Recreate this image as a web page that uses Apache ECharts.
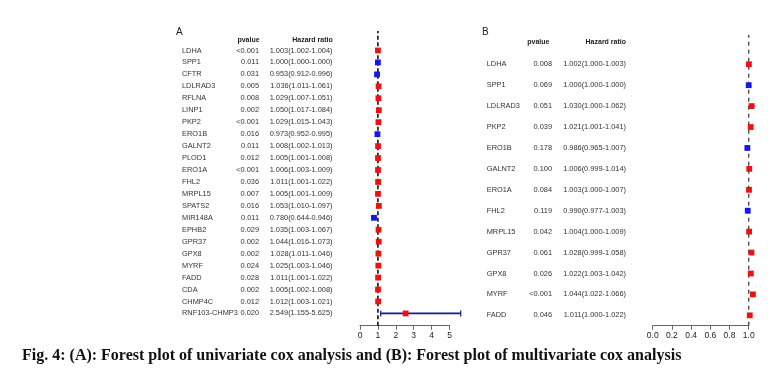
<!DOCTYPE html>
<html><head><meta charset="utf-8">
<script src="https://cdn.jsdelivr.net/npm/echarts@6/dist/echarts.min.js"></script>
<style>html,body{margin:0;padding:0;background:#fff}#c{width:777px;height:369px}</style>
</head><body><div id="c"></div>
<script>
// ---------- Panel A: univariate ----------
const namesA = ["LDHA","SPP1","CFTR","LDLRAD3","RFLNA","LINP1","PKP2","ERO1B","GALNT2","PLOD1","ERO1A","FHL2","MRPL15","SPATS2","MIR148A","EPHB2","GPR37","GPX8","MYRF","FADD","CDA","CHMP4C","RNF103-CHMP3"];
const pvalA = ["<0.001","0.011","0.031","0.005","0.008","0.002","<0.001","0.016","0.011","0.012","<0.001","0.036","0.007","0.016","0.011","0.029","0.002","0.002","0.024","0.028","0.002","0.012","0.020"];
const hrA = [1.003,1.000,0.953,1.036,1.029,1.050,1.029,0.973,1.008,1.005,1.006,1.011,1.005,1.053,0.780,1.035,1.044,1.028,1.025,1.011,1.005,1.012,2.549];
const loA = [1.002,1.000,0.912,1.011,1.007,1.017,1.015,0.952,1.002,1.001,1.003,1.001,1.001,1.010,0.644,1.003,1.016,1.011,1.003,1.001,1.002,1.003,1.155];
const hiA = [1.004,1.000,0.996,1.061,1.051,1.084,1.043,0.995,1.013,1.008,1.009,1.022,1.009,1.097,0.946,1.067,1.073,1.046,1.046,1.022,1.008,1.021,5.625];
const ticksA = [0,1,2,3,4,5];

// ---------- Panel B: multivariate ----------
const namesB = ["LDHA","SPP1","LDLRAD3","PKP2","ERO1B","GALNT2","ERO1A","FHL2","MRPL15","GPR37","GPX8","MYRF","FADD"];
const pvalB = ["0.008","0.069","0.051","0.039","0.178","0.100","0.084","0.119","0.042","0.061","0.026","<0.001","0.046"];
const hrB = [1.002,1.000,1.030,1.021,0.986,1.006,1.003,0.990,1.004,1.028,1.022,1.044,1.011];
const loB = [1.000,1.000,1.000,1.001,0.965,0.999,1.000,0.977,1.000,0.999,1.003,1.022,1.000];
const hiB = [1.003,1.000,1.062,1.041,1.007,1.014,1.007,1.003,1.009,1.058,1.042,1.066,1.022];
const ticksB = [0.0,0.2,0.4,0.6,0.8,1.0];

const refValue = 1;
const caption = "Fig. 4: (A): Forest plot of univariate cox analysis and (B): Forest plot of multivariate cox analysis";

function hrText(h, l, u) {
  return h.map((v, i) => v.toFixed(3) + "(" + l[i].toFixed(3) + "-" + u[i].toFixed(3) + ")");
}
function forestData(h, l, u) {
  return h.map((v, i) => [v, i, l[i], u[i]]);
}

const FONT = "'Liberation Sans', Arial, sans-serif";
const txt = { fontFamily: FONT, fontSize: 7.4, color: "#333" };

function renderForest(params, api) {
  const hr = api.value(0), idx = api.value(1), lo = api.value(2), hi = api.value(3);
  const c = api.coord([hr, idx]);
  const l = api.coord([lo, idx]);
  const h = api.coord([hi, idx]);
  const s = 5.8;
  const color = hr > 1 ? "#ee1111" : "#1515ee";
  const children = [];
  children.push({ type: "line", shape: { x1: l[0], y1: c[1], x2: h[0], y2: c[1] }, style: { stroke: "#1a1a8c", lineWidth: 1.6 } });
  if (h[0] - l[0] > 6) {
    children.push({ type: "line", shape: { x1: l[0], y1: c[1] - 3, x2: l[0], y2: c[1] + 3 }, style: { stroke: "#1a1a8c", lineWidth: 1.2 } });
    children.push({ type: "line", shape: { x1: h[0], y1: c[1] - 3, x2: h[0], y2: c[1] + 3 }, style: { stroke: "#1a1a8c", lineWidth: 1.2 } });
  }
  children.push({ type: "rect", shape: { x: c[0] - s / 2, y: c[1] - s / 2, width: s, height: s }, style: { fill: color } });
  return { type: "group", children };
}

function textAxis(gridIndex, data, offset, align) {
  return {
    type: "category", gridIndex, data, inverse: true, position: "left", offset,
    axisLine: { show: false }, axisTick: { show: false }, splitLine: { show: false },
    axisLabel: Object.assign({ interval: 0, margin: 0, align }, txt)
  };
}
function hiddenValueX(gridIndex, min, max) {
  return { type: "value", gridIndex, min, max, show: false, splitLine: { show: false } };
}

const chart = echarts.init(document.getElementById("c"), null, { renderer: "canvas" });
chart.setOption({
  animation: false,
  backgroundColor: "#ffffff",
  grid: [
    { left: 360, top: 44.5, width: 89.5, height: 274.9, outerBoundsMode: "none" },
    { left: 360, top: 31, width: 89.5, height: 294.7, outerBoundsMode: "none" },
    { left: 652.7, top: 53.8, width: 96, height: 272, outerBoundsMode: "none" },
    { left: 652.7, top: 35, width: 96, height: 290.7, outerBoundsMode: "none" }
  ],
  xAxis: [
    hiddenValueX(0, ticksA[0], ticksA[ticksA.length - 1]),
    {
      type: "value", gridIndex: 1, min: ticksA[0], max: ticksA[ticksA.length - 1], interval: 1,
      splitLine: { show: false },
      axisLine: { show: true, lineStyle: { color: "#666", width: 1 } },
      axisTick: { show: true, length: 4, lineStyle: { color: "#666" } },
      axisLabel: { margin: 5, fontFamily: FONT, fontSize: 8.5, color: "#222" }
    },
    hiddenValueX(2, ticksB[0], ticksB[ticksB.length - 1]),
    {
      type: "value", gridIndex: 3, min: ticksB[0], max: ticksB[ticksB.length - 1], interval: 0.2,
      splitLine: { show: false },
      axisLine: { show: true, lineStyle: { color: "#666", width: 1 } },
      axisTick: { show: true, length: 4, lineStyle: { color: "#666" } },
      axisLabel: { margin: 5, fontFamily: FONT, fontSize: 8.5, color: "#222", formatter: v => v.toFixed(1) }
    }
  ],
  yAxis: [
    textAxis(0, namesA, 178, "left"),
    textAxis(0, pvalA, 101, "right"),
    textAxis(0, hrText(hrA, loA, hiA), 27.5, "right"),
    { type: "value", gridIndex: 1, min: 0, max: 1, show: false, splitLine: { show: false } },
    textAxis(2, namesB, 166, "left"),
    textAxis(2, pvalB, 100.7, "right"),
    textAxis(2, hrText(hrB, loB, hiB), 26.7, "right"),
    { type: "value", gridIndex: 3, min: 0, max: 1, show: false, splitLine: { show: false } }
  ],
  series: [
    {
      type: "line", xAxisIndex: 1, yAxisIndex: 3, data: [[refValue, 0], [refValue, 1]],
      symbol: "none", silent: true, z: 1,
      lineStyle: { color: "#111", width: 1.6, type: [4, 2.5] }
    },
    {
      type: "line", xAxisIndex: 3, yAxisIndex: 7, data: [[refValue, 0], [refValue, 1]],
      symbol: "none", silent: true, z: 1,
      lineStyle: { color: "#555", width: 1.5, type: [4, 4] }
    },
    {
      type: "custom", xAxisIndex: 0, yAxisIndex: 0, clip: false, z: 5,
      encode: { x: 0, y: 1 }, renderItem: renderForest, data: forestData(hrA, loA, hiA)
    },
    {
      type: "custom", xAxisIndex: 2, yAxisIndex: 4, clip: false, z: 5,
      encode: { x: 0, y: 1 }, renderItem: renderForest, data: forestData(hrB, loB, hiB)
    }
  ],
  graphic: [
    { type: "text", x: 176, y: 32, style: { text: "A", font: "10px " + FONT, fill: "#222", textAlign: "left", textVerticalAlign: "middle" } },
    { type: "text", x: 248.5, y: 40, style: { text: "pvalue", font: "bold 7px " + FONT, fill: "#222", textAlign: "center", textVerticalAlign: "middle" } },
    { type: "text", x: 332.7, y: 40, style: { text: "Hazard ratio", font: "bold 7px " + FONT, fill: "#222", textAlign: "right", textVerticalAlign: "middle" } },
    { type: "text", x: 482, y: 32, style: { text: "B", font: "10px " + FONT, fill: "#222", textAlign: "left", textVerticalAlign: "middle" } },
    { type: "text", x: 538.3, y: 42.5, style: { text: "pvalue", font: "bold 7px " + FONT, fill: "#222", textAlign: "center", textVerticalAlign: "middle" } },
    { type: "text", x: 626, y: 42.5, style: { text: "Hazard ratio", font: "bold 7px " + FONT, fill: "#222", textAlign: "right", textVerticalAlign: "middle" } },
    { type: "text", x: 22, y: 356, style: { text: caption, font: "bold 16px 'Liberation Serif', 'Times New Roman', serif", fill: "#111", textAlign: "left", textVerticalAlign: "middle" } }
  ]
});
</script>
</body></html>
